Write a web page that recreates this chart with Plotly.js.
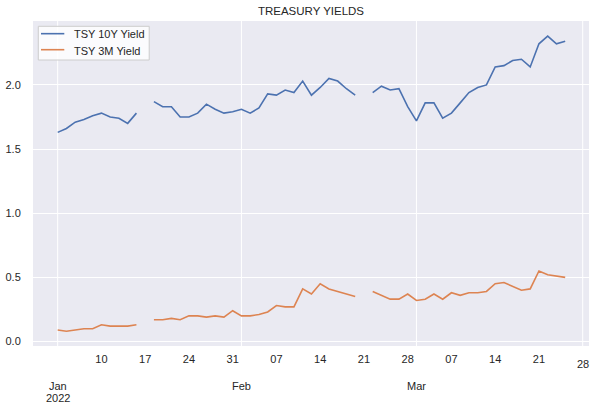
<!DOCTYPE html>
<html>
<head>
<meta charset="utf-8">
<script src="https://cdn.plot.ly/plotly-3.0.1.min.js"></script>
<style>html,body{margin:0;padding:0;background:#fff;}#chart{width:603px;height:408px;}</style>
</head>
<body>
<div id="chart"></div>
<script>
// Business days Jan 3 – Mar 24, 2022 (holidays kept as null to break the line)
const dates = [
  '2022-01-03','2022-01-04','2022-01-05','2022-01-06','2022-01-07',
  '2022-01-10','2022-01-11','2022-01-12','2022-01-13','2022-01-14',
  '2022-01-17','2022-01-18','2022-01-19','2022-01-20','2022-01-21',
  '2022-01-24','2022-01-25','2022-01-26','2022-01-27','2022-01-28',
  '2022-01-31','2022-02-01','2022-02-02','2022-02-03','2022-02-04',
  '2022-02-07','2022-02-08','2022-02-09','2022-02-10','2022-02-11',
  '2022-02-14','2022-02-15','2022-02-16','2022-02-17','2022-02-18',
  '2022-02-21','2022-02-22','2022-02-23','2022-02-24','2022-02-25',
  '2022-02-28','2022-03-01','2022-03-02','2022-03-03','2022-03-04',
  '2022-03-07','2022-03-08','2022-03-09','2022-03-10','2022-03-11',
  '2022-03-14','2022-03-15','2022-03-16','2022-03-17','2022-03-18',
  '2022-03-21','2022-03-22','2022-03-23','2022-03-24'
];
const tsy10y = [
  1.63,1.66,1.71,1.73,1.76,
  1.78,1.75,1.74,1.70,1.78,
  null,1.87,1.83,1.83,1.75,
  1.75,1.78,1.85,1.81,1.78,
  1.79,1.81,1.78,1.82,1.93,
  1.92,1.96,1.94,2.03,1.92,
  1.98,2.05,2.03,1.97,1.92,
  null,1.94,1.99,1.96,1.97,
  1.83,1.72,1.86,1.86,1.74,
  1.78,1.86,1.94,1.98,2.00,
  2.14,2.15,2.19,2.20,2.14,
  2.32,2.38,2.32,2.34
];
const tsy3m = [
  0.09,0.08,0.09,0.10,0.10,
  0.13,0.12,0.12,0.12,0.13,
  null,0.17,0.17,0.18,0.17,
  0.20,0.20,0.19,0.20,0.19,
  0.24,0.20,0.20,0.21,0.23,
  0.28,0.27,0.27,0.41,0.37,
  0.45,0.41,0.39,0.37,0.35,
  null,0.39,0.36,0.33,0.33,
  0.37,0.32,0.33,0.37,0.33,
  0.38,0.36,0.38,0.38,0.39,
  0.45,0.46,0.43,0.40,0.41,
  0.55,0.52,0.51,0.50
];
const seriesNames = ['TSY 10Y Yield', 'TSY 3M Yield'];
const seriesColors = ['#4c72b0', '#dd8452'];
const tickDates  = ['2022-01-10','2022-01-17','2022-01-24','2022-01-31','2022-02-07','2022-02-14','2022-02-21','2022-02-28','2022-03-07','2022-03-14','2022-03-21'];
const tickLabels = ['10','17','24','31','07','14','21','28','07','14','21'];
const endTickDate = '2022-03-28';
const endTickLabel = '28';
const gridDates = ['2022-01-03','2022-02-01','2022-03-01','2022-03-28'];
const monthDates = ['2022-01-03','2022-02-01','2022-03-01'];
const monthLabels = ['Jan','Feb','Mar'];
const yearDate = '2022-01-03';
const yearLabel = '2022';
const yTicks = [0.0,0.5,1.0,1.5,2.0];

const textColor = '#262626';
const font = 'Liberation Sans, Arial, sans-serif';

const traces = [
  {x: dates, y: tsy10y, name: seriesNames[0], type: 'scatter', mode: 'lines',
   line: {color: seriesColors[0], width: 1.6}, connectgaps: false, showlegend: false},
  {x: dates, y: tsy3m, name: seriesNames[1], type: 'scatter', mode: 'lines',
   line: {color: seriesColors[1], width: 1.6}, connectgaps: false, showlegend: false}
];

// vertical gridlines only at the month / end ticks
const shapes = gridDates.map(d => ({
  type: 'line', xref: 'x', yref: 'paper', x0: d, x1: d, y0: 0, y1: 1,
  line: {color: '#ffffff', width: 1}, layer: 'below'
}));

// legend box (upper left)
shapes.push({
  type: 'rect', xref: 'paper', yref: 'paper', x0: 0.0095, x1: 0.209, y0: 0.88, y1: 0.9837,
  fillcolor: 'rgba(255,255,255,0.8)', line: {color: '#cccccc', width: 1}, layer: 'above'
});
const legendLineY = [0.961, 0.9117];
const legendTextY = [0.9585, 0.9083];
seriesNames.forEach((n, i) => {
  shapes.push({
    type: 'line', xref: 'paper', yref: 'paper', x0: 0.0144, x1: 0.0563,
    y0: legendLineY[i], y1: legendLineY[i],
    line: {color: seriesColors[i], width: 1.6}, layer: 'above'
  });
});

const annotations = monthDates.map((d, i) => ({
  x: d, xref: 'x', y: -0.098, yref: 'paper', yanchor: 'top', xanchor: 'center',
  text: monthLabels[i], showarrow: false, font: {family: font, size: 11, color: textColor}
}));
annotations.push({
  x: yearDate, xref: 'x', y: -0.135, yref: 'paper', yanchor: 'top', xanchor: 'center',
  text: yearLabel, showarrow: false, font: {family: font, size: 11, color: textColor}
});
annotations.push({
  x: endTickDate, xref: 'x', y: -0.03, yref: 'paper', yanchor: 'top', xanchor: 'center',
  text: endTickLabel, showarrow: false, font: {family: font, size: 11, color: textColor}
});
seriesNames.forEach((n, i) => {
  annotations.push({
    x: 0.0705, xref: 'paper', y: legendTextY[i], yref: 'paper', xanchor: 'left', yanchor: 'middle',
    text: n, showarrow: false, font: {family: font, size: 11, color: textColor}
  });
});

const layout = {
  width: 603, height: 408,
  margin: {l: 33, r: 14, t: 21, b: 62, pad: 0},
  paper_bgcolor: '#ffffff',
  plot_bgcolor: '#eaeaf2',
  font: {family: font, size: 11, color: textColor},
  title: {text: 'TREASURY YIELDS', x: 0.5, xref: 'paper', xanchor: 'center',
          y: 1 - 11/408, yref: 'container', yanchor: 'middle',
          font: {family: font, size: 11.5, color: textColor}},
  showlegend: false,
  xaxis: {
    type: 'date',
    range: ['2021-12-29 04:19', '2022-03-28 17:17'],
    rangebreaks: [{bounds: ['sat', 'mon']}],
    tickmode: 'array', tickvals: tickDates, ticktext: tickLabels,
    showgrid: false, zeroline: false, showline: false,
    ticks: 'outside', ticklen: 3, tickcolor: 'rgba(0,0,0,0)',
    tickfont: {family: font, size: 11, color: textColor}
  },
  yaxis: {
    range: [-0.035, 2.498],
    tickmode: 'array', tickvals: yTicks, tickformat: '.1f',
    showgrid: true, gridcolor: '#ffffff', gridwidth: 1,
    zeroline: false, showline: false,
    ticks: 'outside', ticklen: 9, tickcolor: 'rgba(0,0,0,0)',
    tickfont: {family: font, size: 11, color: textColor}
  },
  shapes: shapes,
  annotations: annotations,
  hovermode: false
};

Plotly.newPlot('chart', traces, layout, {displayModeBar: false, staticPlot: true});
</script>
</body>
</html>
